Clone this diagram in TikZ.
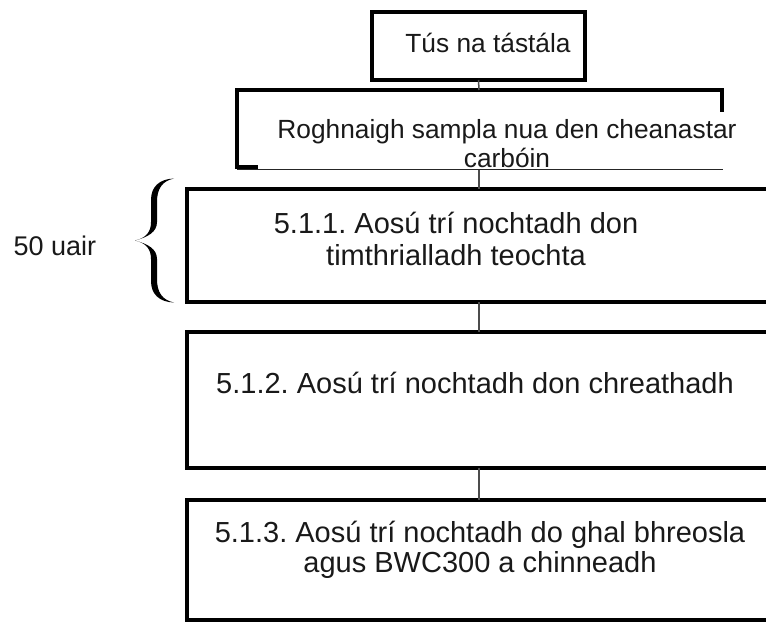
\documentclass[tikz,border=0pt]{standalone}
\usepackage{fontspec}
\setmainfont{Liberation Sans}
\frenchspacing
\begin{document}
\frenchspacing
\begin{tikzpicture}[x=1pt,y=-1pt,
  boxst/.style={draw=black, line width=4.8pt, inner sep=0pt, outer sep=0pt},
  conn/.style={draw=black!70, line width=1.5pt},
  bigtxt/.style={font=\fontsize{29}{32}\selectfont, align=center, inner sep=0pt, anchor=base, text=black!90},
  smalltxt/.style={font=\fontsize{26.3}{29}\selectfont, align=center, inner sep=0pt, anchor=base, text=black!90}]
\useasboundingbox (0,0) rectangle (766,622);
\clip (0,0) rectangle (766,622);

% top box
\node[boxst, minimum width=213pt, minimum height=68pt] (top) at (478.5,46) {};
\node[smalltxt] (toptxt) at (488,52) {Tús na tástála};

% second (open) shape
\coordinate (s2top) at (479,90);
\coordinate (s2bot) at (479,169.5);
\draw[line width=4.3pt] (258,167) -- (237,167) -- (237,90) -- (722,90) -- (722,112);
\draw[line width=1.3pt, black!85] (237,169.5) -- (723,169.5);
\node[smalltxt] (s2txt) at (507,167) {Roghnaigh sampla nua den cheanastar\\carbóin};

% step boxes
\node[boxst, minimum width=603pt, minimum height=113pt] (b1) at (488.5,245.5) {};
\node[bigtxt] (b1txt) at (456,265) {5.1.1. Aosú trí nochtadh don\\timthrialladh teochta};

\node[boxst, minimum width=603pt, minimum height=136pt] (b2) at (488.5,400) {};
\node[bigtxt] (b2txt) at (475,393) {5.1.2. Aosú trí nochtadh don chreathadh};

\node[boxst, minimum width=603pt, minimum height=120pt] (b3) at (488.5,560) {};
\node[bigtxt, font=\fontsize{29}{30}\selectfont] (b3txt) at (480,572) {5.1.3. Aosú trí nochtadh do ghal bhreosla\\agus BWC300 a chinneadh};

% connectors
\coordinate (cx) at (479,0);
\draw[conn] (top.south) -- (s2top);
\draw[conn] (s2bot) -- (b1.north -| cx);
\draw[conn] (b1.south -| cx) -- (b2.north -| cx);
\draw[conn] (b2.south -| cx) -- (b3.north -| cx);

% brace and label
\fill[black] (174,178.5) .. controls (159,179) and (151,187) .. (151,200) -- (151,222)
  .. controls (151,232) and (146,238) .. (135,240.5)
  .. controls (148,237) and (157,232) .. (157,222) -- (157,202)
  .. controls (157,189) and (162,181) .. (174,178.5) -- cycle;
\fill[black] (174,302.5) .. controls (159,302) and (151,294) .. (151,281) -- (151,259)
  .. controls (151,249) and (146,243) .. (135,240.5)
  .. controls (148,244) and (157,249) .. (157,259) -- (157,279)
  .. controls (157,292) and (162,300) .. (174,302.5) -- cycle;
\node[smalltxt, font=\fontsize{27}{30}\selectfont] (lbl) at (55,255) {50 uair};
\end{tikzpicture}
\end{document}
